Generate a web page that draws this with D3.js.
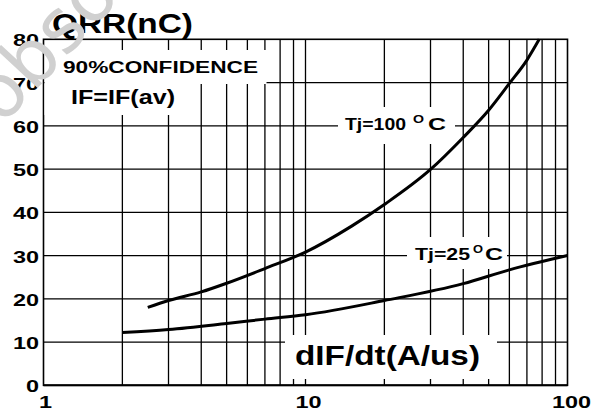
<!DOCTYPE html>
<html>
<head>
<meta charset="utf-8">
<script src="https://cdn.jsdelivr.net/npm/d3@7"></script>
<style>
  body { margin: 0; background: #fff; }
  svg { display: block; font-family: "Liberation Sans", Arial, sans-serif; font-weight: bold; }
</style>
</head>
<body>
<svg></svg>
<script>
// data
var xTicks = [1, 10, 100];
var yTicks = [0, 10, 20, 30, 40, 50, 60, 70, 80];
var minorX = [2, 3, 4, 5, 6, 7, 8, 9, 10, 20, 30, 40, 50, 60, 70, 80, 90];

var tj100_x = [2.5, 3, 4, 5, 7, 10, 15, 20, 30, 40, 50, 60, 70, 78];
var tj100_y = [18, 19.6, 21.6, 23.6, 27, 30.8, 36.8, 41.8, 49.9, 57.3, 63.6, 69.8, 75.2, 80];

var tj25_x = [2, 3, 5, 7, 10, 20, 40, 60, 100];
var tj25_y = [12.2, 12.9, 14.3, 15.3, 16.3, 19.6, 23.5, 26.7, 30];

var svgWidth = 601;
var svgHeight = 412;

var svg = d3.select("svg")
   .attr("width", svgWidth)
   .attr("height", svgHeight);

var x = d3.scaleLog().domain([1, 100]).range([43.5, 567.5]);
var y = d3.scaleLinear().domain([0, 80]).range([385.3, 39.3]);

// stretch text horizontally like the original scan
function stretch(sel, k) {
  sel.each(function () {
    var w = this.getComputedTextLength();
    d3.select(this).attr("textLength", w * k).attr("lengthAdjust", "spacingAndGlyphs");
  });
}
function fitW(sel, w) {
  sel.attr("textLength", w).attr("lengthAdjust", "spacingAndGlyphs");
}

// grid
svg.append("g").selectAll("line")
   .data(minorX)
   .enter()
   .append("line")
   .attr("x1", function (d) { return x(d); })
   .attr("x2", function (d) { return x(d); })
   .attr("y1", y(80))
   .attr("y2", y(0))
   .attr("stroke", "#000")
   .attr("stroke-width", 1.3);

svg.append("g").selectAll("line")
   .data(yTicks.slice(1, -1))
   .enter()
   .append("line")
   .attr("x1", x(1))
   .attr("x2", x(100))
   .attr("y1", function (d) { return y(d); })
   .attr("y2", function (d) { return y(d); })
   .attr("stroke", "#000")
   .attr("stroke-width", 1.3);

// frame
svg.append("rect")
   .attr("x", x(1))
   .attr("y", y(80))
   .attr("width", x(100) - x(1))
   .attr("height", y(0) - y(80))
   .attr("fill", "none")
   .attr("stroke", "#000")
   .attr("stroke-width", 1.6);
svg.append("line")
   .attr("x1", x(1)).attr("x2", x(100))
   .attr("y1", y(0)).attr("y2", y(0))
   .attr("stroke", "#000").attr("stroke-width", 2);

// tick labels
svg.append("g").selectAll("text")
   .data(yTicks)
   .enter()
   .append("text")
   .attr("x", 39)
   .attr("y", function (d) { return y(d) + 7; })
   .attr("text-anchor", "end")
   .attr("font-size", 16.5)
   .text(function (d) { return d; })
   .call(stretch, 1.42);

svg.append("g").selectAll("text")
   .data(xTicks)
   .enter()
   .append("text")
   .attr("x", function (d, i) { return x(d) + 2 + i; })
   .attr("y", 408)
   .attr("text-anchor", "middle")
   .attr("font-size", 16.5)
   .text(function (d) { return d; })
   .call(stretch, 1.42);

// white label boxes that break the grid
var boxes = [
  [44.5, 50, 222, 34],
  [44.5, 84, 141, 31],
  [285, 335, 212, 44],
  [338, 107, 117, 37],
  [407, 237, 100, 32]
];
svg.append("g").selectAll("rect")
   .data(boxes)
   .enter()
   .append("rect")
   .attr("x", function (d) { return d[0]; })
   .attr("y", function (d) { return d[1]; })
   .attr("width", function (d) { return d[2]; })
   .attr("height", function (d) { return d[3]; })
   .attr("fill", "#fff");

// curves
var line = d3.line()
   .x(function (d) { return x(d[0]); })
   .y(function (d) { return y(d[1]); })
   .curve(d3.curveMonotoneX);

svg.append("path")
   .datum(d3.zip(tj100_x, tj100_y))
   .attr("d", line)
   .attr("fill", "none")
   .attr("stroke", "#000")
   .attr("stroke-width", 3);

svg.append("path")
   .datum(d3.zip(tj25_x, tj25_y))
   .attr("d", line)
   .attr("fill", "none")
   .attr("stroke", "#000")
   .attr("stroke-width", 3);

// texts
svg.append("text").attr("x", 52).attr("y", 33).attr("font-size", 27)
   .text("QRR(nC)").call(fitW, 141);
svg.append("text").attr("x", 63).attr("y", 72.5).attr("font-size", 16)
   .text("90%CONFIDENCE").call(fitW, 195);
svg.append("text").attr("x", 71).attr("y", 103.5).attr("font-size", 20)
   .text("IF=IF(av)").call(fitW, 104);
svg.append("text").attr("x", 295).attr("y", 365).attr("font-size", 28)
   .text("dIF/dt(A/us)").call(fitW, 185);

var l1 = svg.append("g").attr("font-size", 16);
l1.append("text").attr("x", 345).attr("y", 130).text("Tj=100").call(fitW, 61);
l1.append("text").attr("x", 413).attr("y", 123).attr("font-size", 10).text("O").call(fitW, 11);
l1.append("text").attr("x", 428).attr("y", 130).text("C").call(fitW, 18);

var l2 = svg.append("g").attr("font-size", 16);
l2.append("text").attr("x", 415).attr("y", 259.5).text("Tj=25").call(fitW, 55);
l2.append("text").attr("x", 473).attr("y", 252.5).attr("font-size", 10).text("O").call(fitW, 10);
l2.append("text").attr("x", 485).attr("y", 259.5).text("C").call(fitW, 18);

// faint watermark lying over the top-left corner
svg.append("text")
   .attr("transform", "translate(2,126) rotate(-47)")
   .attr("font-family", "DejaVu Sans")
   .attr("font-size", 74)
   .attr("font-weight", "normal")
   .attr("fill", "#d0d0d0")
   .text("obsolete");
</script>
</body>
</html>
